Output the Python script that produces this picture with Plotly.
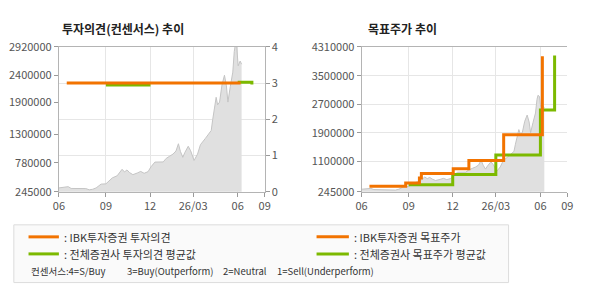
import plotly.graph_objects as go

# ---- data ----
price_dates = ["2025-06-01","2025-06-20","2025-06-26","2025-07-10","2025-07-26","2025-08-02","2025-08-09",
               "2025-08-16","2025-08-26","2025-09-05","2025-09-10","2025-09-18","2025-09-28","2025-10-08",
               "2025-10-13","2025-10-18","2025-10-23","2025-10-30","2025-11-08","2025-11-15","2025-11-22",
               "2025-11-30","2025-12-06","2025-12-11","2025-12-14","2025-12-31","2026-01-06","2026-01-13",
               "2026-01-20","2026-01-26","2026-01-31","2026-02-04","2026-02-09","2026-02-13","2026-02-20",
               "2026-02-25","2026-03-04","2026-03-11","2026-03-17","2026-03-27","2026-04-03","2026-04-08",
               "2026-04-11","2026-04-15","2026-04-18","2026-04-21","2026-04-25","2026-04-30","2026-05-05",
               "2026-05-09","2026-05-12","2026-05-17","2026-05-22","2026-05-25","2026-05-27","2026-05-30",
               "2026-06-02","2026-06-06","2026-06-09"]
price_values = [315000,338000,305000,300000,303000,280000,290000,
                315000,385000,390000,430000,500000,540000,659000,
                610000,647000,600000,560000,590000,620000,585000,
                615000,705000,760000,792000,795000,860000,900000,
                940000,997000,1131000,990000,880000,967000,1084000,
                1000000,822000,939000,1114000,1229000,1317000,1376000,
                1579000,1841000,1988000,1850000,1900000,2221000,2396000,
                2200000,1900000,2191000,2453000,2833000,2950000,2920000,
                2570000,2658000,2600000]

ibk_op_dates = ["2025-06-17", "2026-06-07"]
ibk_op_values = [3, 3]
cons_op_dates = ["2025-09-05", "2025-12-05", None, "2026-06-01", "2026-06-30", "2026-06-30"]
cons_op_values = [2.95, 2.95, None, 3.02, 3.02, 2.96]

ibk_tp_dates = ["2025-06-17","2025-08-30","2025-09-27","2025-10-01","2025-12-05","2026-01-06","2026-03-18","2026-06-05"]
ibk_tp_values = [400000, 492000, 630000, 755000, 890000, 1122000, 1847000, 4044000]
cons_tp_dates = ["2025-09-05","2025-12-04","2026-03-02","2026-06-01","2026-06-30"]
cons_tp_values = [439000, 731000, 1273000, 2538000, 4071000]

x_tickvals = ["2025-06-01","2025-09-05","2025-12-04","2026-03-02","2026-06-01","2026-07-26"]
x_ticktext = ["06","09","12","26/03","06","09"]
x_range = ["2025-06-01","2026-07-26"]

left_yticks = [245000, 780000, 1300000, 1900000, 2400000, 2920000]
right_op_ticks = [0, 1, 2, 3, 4]
tp_yticks = [245000, 1100000, 1900000, 2700000, 3500000, 4310000]

ORANGE = "#f27300"
GREEN = "#7cb900"
FONT = "Noto Sans CJK KR"
W, H = 590, 300

fig = go.Figure()

# left chart
fig.add_trace(go.Scatter(x=price_dates, y=price_values, mode="lines", fill="tozeroy",
                         line=dict(color="#c4c4c4", width=1), fillcolor="#e0e0e0",
                         xaxis="x", yaxis="y"))
fig.add_trace(go.Scatter(x=cons_op_dates, y=cons_op_values, mode="lines", line_shape="hv",
                         line=dict(color=GREEN, width=3), connectgaps=False, xaxis="x", yaxis="y2"))
fig.add_trace(go.Scatter(x=ibk_op_dates, y=ibk_op_values, mode="lines",
                         line=dict(color=ORANGE, width=3), xaxis="x", yaxis="y2"))

# right chart
fig.add_trace(go.Scatter(x=price_dates, y=price_values, mode="lines", fill="tozeroy",
                         line=dict(color="#c4c4c4", width=1), fillcolor="#e0e0e0",
                         xaxis="x2", yaxis="y3"))
fig.add_trace(go.Scatter(x=cons_tp_dates, y=cons_tp_values, mode="lines", line_shape="hv",
                         line=dict(color=GREEN, width=3), xaxis="x2", yaxis="y3"))
fig.add_trace(go.Scatter(x=ibk_tp_dates, y=ibk_tp_values, mode="lines", line_shape="hv",
                         line=dict(color=ORANGE, width=3), xaxis="x2", yaxis="y3"))

def px_x(a, b):
    return [a / W, b / W]

def px_y(top, bottom):
    return [(H - bottom) / H, (H - top) / H]

axis_common = dict(showline=True, linecolor="#b4b4b4", linewidth=1, ticks="outside",
                   ticklen=4, tickcolor="#9a9a9a", tickfont=dict(family=FONT, size=11, color="#555555"),
                   zeroline=False, fixedrange=True)

xcommon = dict(axis_common, type="date", range=x_range, tickmode="array", tickvals=x_tickvals,
               ticktext=x_ticktext, showgrid=True, gridcolor="#e6e6e6", mirror=True)

fig.update_layout(
    width=W, height=H, margin=dict(l=0, r=0, t=0, b=0),
    paper_bgcolor="white", plot_bgcolor="white", showlegend=False, hovermode=False,
    font=dict(family=FONT),
    xaxis=dict(xcommon, domain=px_x(54, 264), anchor="y"),
    yaxis=dict(axis_common, domain=px_y(40, 193), range=[245000, 2920000], tickmode="array",
               tickvals=left_yticks, ticktext=[str(v) for v in left_yticks], showgrid=False,
               anchor="x"),
    yaxis2=dict(axis_common, overlaying="y", side="right", range=[0, 4], tickmode="array",
                tickvals=right_op_ticks, showgrid=True, gridcolor="#e6e6e6", anchor="x"),
    xaxis2=dict(xcommon, domain=px_x(363, 573), anchor="y3"),
    yaxis3=dict(axis_common, domain=px_y(40, 193), range=[245000, 4310000], tickmode="array",
                tickvals=tp_yticks, ticktext=[str(v) for v in tp_yticks], showgrid=True,
                gridcolor="#e6e6e6", anchor="x2"),
)

shapes = [dict(type="rect", xref="paper", yref="paper", x0=8 / W, x1=513 / W,
               y0=(H - 289) / H, y1=(H - 228) / H, fillcolor="#fafafa",
               line=dict(color="#dcdcdc", width=1), layer="below")]
legend_rows = [(23, 54, 240.7, ORANGE, ": IBK투자증권 투자의견"),
               (23, 54, 258.7, GREEN, ": 전체증권사 투자의견 평균값"),
               (317, 350, 240.7, ORANGE, ": IBK투자증권 목표주가"),
               (317, 350, 258.7, GREEN, ": 전체증권사 목표주가 평균값")]
annotations = []
for x0, x1, yy, col, txt in legend_rows:
    shapes.append(dict(type="line", xref="paper", yref="paper", x0=x0 / W, x1=x1 / W,
                       y0=(H - yy) / H, y1=(H - yy) / H, line=dict(color=col, width=3)))
    annotations.append(dict(text=txt, xref="paper", yref="paper", x=(x1 + 3) / W, y=(H - yy) / H,
                            xanchor="left", yanchor="middle", showarrow=False,
                            font=dict(family=FONT, size=11, color="#333333")))
for xx, txt in [(23, "컨센서스:4=S/Buy"), (121, "3=Buy(Outperform)"), (219, "2=Neutral"),
                (275, "1=Sell(Underperform)")]:
    annotations.append(dict(text=txt, xref="paper", yref="paper", x=xx / W, y=(H - 277) / H,
                            xanchor="left", yanchor="middle", showarrow=False,
                            font=dict(family=FONT, size=9.5, color="#333333")))
for xx, txt in [(55, "<b>투자의견(컨센서스) 추이</b>"), (367, "<b>목표주가 추이</b>")]:
    annotations.append(dict(text=txt, xref="paper", yref="paper", x=xx / W, y=(H - 20.5) / H,
                            xanchor="left", yanchor="middle", showarrow=False,
                            font=dict(family=FONT, size=12, color="#222222")))

fig.update_layout(shapes=shapes, annotations=annotations)
fig.write_html("out.html")
